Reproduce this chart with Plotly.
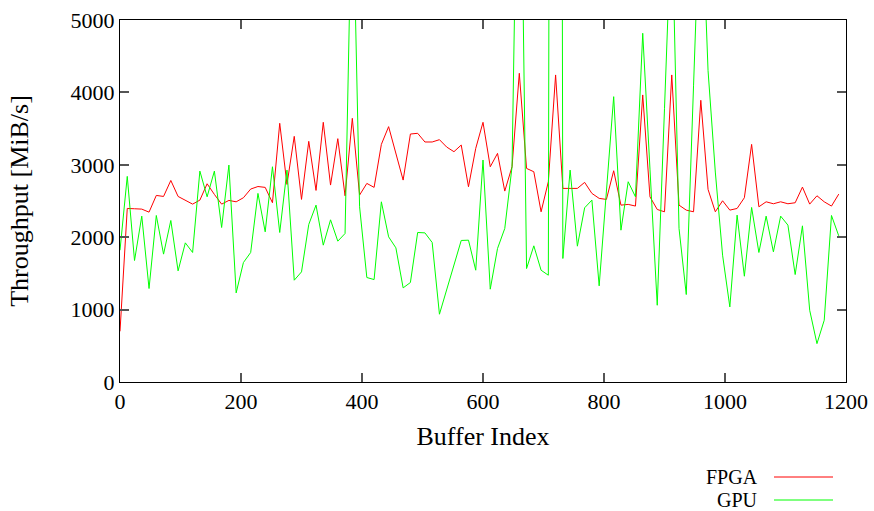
import plotly.graph_objects as go

# Buffer index (every 12th buffer sampled)
buffer_index = [12 * i for i in range(100)]

fpga = [700, 2397, 2393, 2388, 2346, 2577, 2563, 2784, 2563, 2508,
        2457, 2512, 2738, 2591, 2457, 2508, 2489, 2545, 2665, 2700,
        2688, 2476, 3573, 2729, 3393, 2522, 3324, 2646, 3587, 2720,
        3361, 2572, 3642, 2582, 2743, 2688, 3282, 3527, 3158, 2789,
        3425, 3435, 3315, 3315, 3347, 3245, 3181, 3273, 2697, 3227,
        3587, 2973, 3158, 2637, 2973, 4264, 2950, 2904, 2351, 2766,
        4241, 2674, 2674, 2674, 2757, 2605, 2536, 2522, 2918, 2443,
        2453, 2430, 3965, 2558, 2383, 2351, 4241, 2443, 2374, 2351,
        3891, 2660, 2351, 2503, 2374, 2397, 2545, 3282, 2420, 2489,
        2462, 2489, 2462, 2476, 2692, 2457, 2572, 2489, 2430, 2595]

gpu = [1820, 2840, 1678, 2291, 1291, 2300, 1766, 2231, 1535, 1922,
       1789, 2913, 2558, 2913, 2134, 2996, 1231, 1650, 1789, 2605,
       2074, 2973, 2065, 2927, 1406, 1521, 2176, 2443, 1890, 2240,
       1945, 2051, 7100, 2420, 1443, 1415, 2489, 2005, 1853, 1300,
       1374, 2065, 2060, 1927, 936, 1277, 1614, 1955, 1959, 1544,
       3066, 1282, 1844, 2121, 2973, 9200, 1567, 1881, 1544, 1475,
       50000, 1706, 2927, 1876, 2406, 2512, 1328, 2600, 3941, 2097,
       2766, 2558, 4817, 2940, 1060, 3780, 6500, 2121, 1208, 4090,
       6970, 4300, 2900, 1752, 1037, 2305, 1461, 2411, 1789, 2291,
       1798, 2291, 2167, 1484, 2157, 991, 530, 853, 2300, 2019]

x_ticks = [0, 200, 400, 600, 800, 1000, 1200]
y_ticks = [0, 1000, 2000, 3000, 4000, 5000]
series_names = ["FPGA", "GPU"]
series_colors = ["#ff0000", "#00ff00"]

FONT = "Liberation Serif"
L, R, T, B, W, H = 120, 28, 20, 129, 874, 511
PW, PH = W - L - R, H - T - B

fig = go.Figure()
for name, ys, col in zip(series_names, [fpga, gpu], series_colors):
    fig.add_trace(go.Scatter(x=buffer_index, y=ys, mode="lines", name=name,
                             line=dict(color=col, width=1), showlegend=False))

fig.update_layout(
    width=W, height=H,
    margin=dict(l=L, r=R, t=T, b=B),
    paper_bgcolor="white", plot_bgcolor="white",
    font=dict(family=FONT, size=22, color="black"),
)
fig.update_xaxes(range=[0, 1200], tickvals=x_ticks, ticks="inside", ticklen=9,
                 tickcolor="#555", tickwidth=1.5, showline=True, linecolor="black",
                 linewidth=1, mirror="ticks", showgrid=False, zeroline=False,
                 automargin=False,
                 title=dict(text="Buffer Index", standoff=13))
fig.update_yaxes(range=[0, 5000], tickvals=y_ticks, ticks="inside", ticklen=9,
                 tickcolor="#555", tickwidth=1.5, showline=True, linecolor="black",
                 linewidth=1, mirror="ticks", showgrid=False, zeroline=False,
                 automargin=False,
                 title=dict(text="Throughput [MiB/s]", standoff=34))

# legend drawn gnuplot-style: label right-aligned, sample line to the right
legend_y = [477, 500]
legend_font = 20
for name, col, yy in zip(series_names, series_colors, legend_y):
    py = (H - yy - B) / PH
    fig.add_annotation(xref="paper", yref="paper", x=(759 - L) / PW,
                       y=py, xanchor="right", yanchor="middle", borderpad=0,
                       height=20, valign="middle",
                       text=name, showarrow=False,
                       font=dict(family=FONT, size=legend_font))
    fig.add_shape(type="line", xref="paper", yref="paper",
                  x0=(774 - L) / PW, x1=(833 - L) / PW, y0=py, y1=py,
                  line=dict(color=col, width=1))

fig.write_html("out.html")
